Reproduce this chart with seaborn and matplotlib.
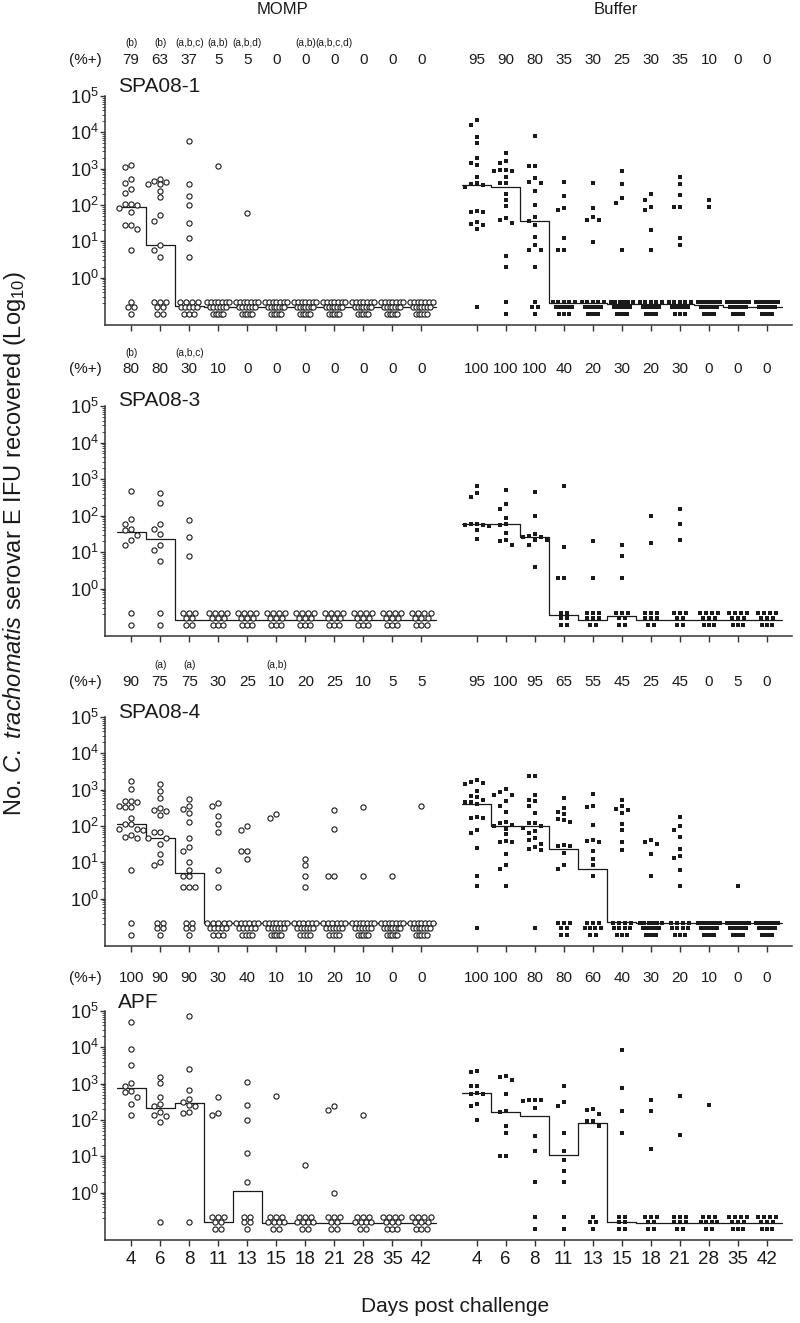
import matplotlib
matplotlib.use("Agg")
import matplotlib.pyplot as plt
import seaborn as sns
import pandas as pd
from matplotlib import transforms
from matplotlib.ticker import FixedLocator, NullFormatter

# ---- data (log10 IFU of positive mice) ----
days = ["4", "6", "8", "11", "13", "15", "18", "21", "28", "35", "42"]

p1_momp_pos = [[3.11, 3.04, 2.73, 2.61, 2.43, 2.33, 2.03, 2.02, 1.99, 1.93, 1.82, 1.44, 1.44, 1.33, 0.76],
               [2.73, 2.66, 2.64, 2.57, 2.57, 2.38, 2.21, 1.72, 1.57, 0.89, 0.76, 0.58],
               [3.76, 2.57, 2.24, 1.99, 1.50, 1.08, 0.58],
               [3.08], [1.77], [], [], [], [], [], []]
p1_buf_pos = [[4.33, 4.20, 3.87, 3.71, 3.29, 3.15, 3.09, 2.78, 2.62, 2.57, 2.55, 2.51, 1.85, 1.80, 1.80, 1.54, 1.47, 1.45, 1.34],
              [3.42, 3.22, 3.15, 2.97, 2.96, 2.95, 2.93, 2.78, 2.62, 2.62, 2.30, 2.14, 1.98, 1.63, 1.59, 1.50, 0.59, 0.29],
              [3.91, 3.07, 3.07, 2.75, 2.63, 2.60, 2.39, 2.01, 1.68, 1.57, 1.45, 1.13, 0.89, 0.77, 0.77, 0.29],
              [2.63, 2.24, 1.91, 1.86, 1.08, 0.77, 0.77],
              [2.60, 1.91, 1.68, 1.59, 1.59, 0.99],
              [2.95, 2.57, 2.19, 2.05, 0.77],
              [2.30, 2.15, 1.94, 1.87, 1.30, 0.77],
              [2.78, 2.57, 2.27, 1.95, 1.95, 1.08, 0.89],
              [2.15, 1.96], [], []]
p2_momp_pos = [[2.66, 1.90, 1.78, 1.63, 1.59, 1.48, 1.33, 1.19],
               [2.61, 2.33, 1.78, 1.63, 1.50, 1.19, 1.06, 0.76],
               [1.89, 1.40, 0.89], [], [], [], [], [], [], [], []]
p2_buf_pos = [[2.82, 2.61, 2.50, 1.77, 1.76, 1.75, 1.74, 1.72, 1.59, 1.36],
              [2.70, 2.31, 2.17, 1.94, 1.76, 1.75, 1.53, 1.33, 1.29, 1.19],
              [2.64, 1.99, 1.50, 1.44, 1.41, 1.40, 1.33, 1.33, 1.19, 0.58],
              [2.82, 1.13, 0.28, 0.28], [1.29, 0.28], [1.19, 0.89, 0.28],
              [2.00, 1.24], [2.18, 1.77, 1.33], [], [], []]
p3_momp_pos = [[3.24, 3.02, 2.70, 2.68, 2.66, 2.55, 2.52, 2.52, 2.23, 2.05, 2.05, 1.92, 1.92, 1.90, 1.76, 1.70, 1.66, 0.80],
               [3.16, 2.97, 2.78, 2.50, 2.44, 2.41, 2.30, 1.83, 1.83, 1.68, 1.68, 1.51, 1.22, 1.02, 0.92],
               [2.75, 2.55, 2.46, 2.35, 2.10, 1.67, 1.41, 1.32, 1.02, 0.80, 0.62, 0.62, 0.33, 0.33, 0.33],
               [2.63, 2.55, 2.28, 2.07, 1.85, 0.80, 0.33],
               [2.01, 1.89, 1.32, 1.32, 1.09],
               [2.33, 2.23], [1.09, 0.93, 0.62, 0.33], [2.44, 1.92, 0.62, 0.62],
               [2.53, 0.62], [0.62], [2.55]]
p3_buf_pos = [[3.27, 3.20, 3.18, 3.15, 2.97, 2.83, 2.80, 2.72, 2.66, 2.65, 2.62, 2.25, 2.23, 2.23, 1.90, 1.81, 1.40, 0.63, 0.34],
              [3.01, 2.94, 2.86, 2.86, 2.68, 2.54, 2.39, 2.10, 2.08, 2.03, 2.01, 1.93, 1.77, 1.59, 1.55, 1.55, 1.23, 0.93, 0.82, 0.34],
              [3.39, 3.37, 2.86, 2.72, 2.70, 2.55, 2.37, 2.08, 2.08, 1.99, 1.95, 1.86, 1.81, 1.66, 1.62, 1.51, 1.41, 1.37, 1.33],
              [2.78, 2.49, 2.39, 2.33, 2.19, 2.17, 2.12, 1.49, 1.45, 1.45, 1.26, 0.93, 0.81],
              [2.89, 2.55, 2.53, 2.03, 1.61, 1.58, 1.55, 1.30, 1.09, 0.93, 0.63],
              [2.73, 2.55, 2.46, 2.45, 2.37, 2.05, 1.89, 1.55, 1.34],
              [1.62, 1.55, 1.50, 1.22, 0.62],
              [2.24, 2.01, 1.89, 1.71, 1.37, 1.17, 1.11, 0.80, 0.34],
              [], [0.34], []]
p4_momp_pos = [[4.69, 3.96, 3.52, 3.03, 2.95, 2.79, 2.77, 2.64, 2.45, 2.15],
               [3.18, 3.01, 2.63, 2.45, 2.40, 2.23, 2.15, 2.10, 1.94],
               [4.86, 3.40, 2.83, 2.59, 2.49, 2.42, 2.38, 2.23, 2.20],
               [2.64, 2.19, 2.13], [3.04, 2.41, 2.01, 1.08, 0.30],
               [2.66], [0.77], [2.39, 2.27, 0.0], [2.15], [], []]
p4_buf_pos = [[3.35, 3.33, 2.95, 2.93, 2.74, 2.73, 2.73, 2.44, 2.39, 2.01],
              [3.20, 3.18, 3.11, 2.71, 2.26, 2.21, 1.83, 1.65, 1.00, 1.00],
              [2.56, 2.55, 2.55, 2.53, 2.33, 1.56, 1.15, 0.30],
              [2.95, 2.49, 2.38, 1.65, 1.15, 0.90, 0.60, 0.30],
              [2.31, 2.27, 2.17, 1.98, 1.98, 1.83],
              [3.92, 2.87, 2.25, 1.65], [2.55, 2.26, 1.21], [2.66, 1.60], [2.41], [], []]

# mice per group (MOMP, Buffer)
n_mice = {"p1": (19, 20), "p2": (10, 10), "p3": (20, 20), "p4": (10, 10)}

# medians (log10) as drawn
p1_momp_med = [1.94, 0.89, -0.78, -0.81, -0.81, -0.81, -0.81, -0.81, -0.81, -0.81, -0.81]
p1_buf_med = [2.55, 2.49, 1.57, -0.69, -0.69, -0.72, -0.72, -0.72, -0.74, -0.80, -0.80]
p2_momp_med = [1.54, 1.37, -0.85, -0.85, -0.85, -0.85, -0.85, -0.85, -0.85, -0.85, -0.85]
p2_buf_med = [1.76, 1.76, 1.40, -0.73, -0.85, -0.75, -0.85, -0.85, -0.85, -0.85, -0.85]
p3_momp_med = [2.05, 1.68, 0.71, -0.68, -0.68, -0.68, -0.68, -0.68, -0.68, -0.68, -0.68]
p3_buf_med = [2.62, 1.99, 2.00, 1.37, 0.81, -0.64, -0.66, -0.66, -0.68, -0.68, -0.68]
p4_momp_med = [2.89, 2.32, 2.46, -0.80, 0.04, -0.82, -0.82, -0.82, -0.82, -0.82, -0.82]
p4_buf_med = [2.74, 2.23, 2.10, 1.03, 1.92, -0.80, -0.82, -0.82, -0.82, -0.82, -0.82]

# % positive rows
p1_momp_pct = ["79", "63", "37", "5", "5", "0", "0", "0", "0", "0", "0"]
p1_buf_pct = ["95", "90", "80", "35", "30", "25", "30", "35", "10", "0", "0"]
p2_momp_pct = ["80", "80", "30", "10", "0", "0", "0", "0", "0", "0", "0"]
p2_buf_pct = ["100", "100", "100", "40", "20", "30", "20", "30", "0", "0", "0"]
p3_momp_pct = ["90", "75", "75", "30", "25", "10", "20", "25", "10", "5", "5"]
p3_buf_pct = ["95", "100", "95", "65", "55", "45", "25", "45", "0", "5", "0"]
p4_momp_pct = ["100", "90", "90", "30", "40", "10", "10", "20", "10", "0", "0"]
p4_buf_pct = ["100", "100", "80", "80", "60", "40", "30", "20", "10", "0", "0"]

p1_letters = ["(b)", "(b)", "(a,b,c)", "(a,b)", "(a,b,d)", "", "(a,b)", "(a,b,c,d)", "", "", ""]
p2_letters = ["(b)", "", "(a,b,c)", "", "", "", "", "", "", "", ""]
p3_letters = ["", "(a)", "(a)", "", "", "(a,b)", "", "", "", "", ""]
p4_letters = [""] * 11

panel_names = ["SPA08-1", "SPA08-3", "SPA08-4", "APF"]

panels = [
    ("p1", p1_momp_pos, p1_buf_pos, p1_momp_med, p1_buf_med, p1_momp_pct, p1_buf_pct, p1_letters),
    ("p2", p2_momp_pos, p2_buf_pos, p2_momp_med, p2_buf_med, p2_momp_pct, p2_buf_pct, p2_letters),
    ("p3", p3_momp_pos, p3_buf_pos, p3_momp_med, p3_buf_med, p3_momp_pct, p3_buf_pct, p3_letters),
    ("p4", p4_momp_pos, p4_buf_pos, p4_momp_med, p4_buf_med, p4_momp_pct, p4_buf_pct, p4_letters),
]

# ---- layout helpers ----
W, H = 800, 1323
SLOT, DEC, GAP = 29.0, 36.3, 6.0
LOD_ROWS = [-0.66, -0.80, -0.99]   # below-detection mice drawn in 3 rows like the original
ROW_WIDTH = [22.0, 16.0, 10.0]     # px width of each row of the "bow tie"
momp_x = list(range(11))
buf_x = [11.9 + i for i in range(11)]


def spread(vals):
    # simple beeswarm: push overlapping points sideways
    placed = []
    for v in sorted(vals, reverse=True):
        for k in (0, -1, 1, -2, 2, -3, 3, -4, 4):
            dx = k * GAP
            if all(abs(dx - px) >= GAP - 0.5 or abs(v - pv) * DEC >= GAP - 0.5 for px, pv in placed):
                break
        placed.append((dx, v))
    return [(px / SLOT, pv) for px, pv in placed]


def negatives(n):
    hi = round(n * 0.37)
    lo = round(n * 0.26)
    mid = n - hi - lo
    pts = []
    for m, lv, wid in zip((hi, mid, lo), LOD_ROWS, ROW_WIDTH):
        if m <= 0:
            continue
        step = min(GAP, wid / max(m - 1, 1))
        for i in range(m):
            pts.append(((i - (m - 1) / 2) * step / SLOT, lv))
    return pts


def group_frame(pos_lists, xs, n):
    rows = []
    for x0, vals in zip(xs, pos_lists):
        for dx, v in spread(vals) + negatives(n - len(vals)):
            rows.append({"x": x0 + dx, "y": 10 ** v})
    return pd.DataFrame(rows)


def median_steps(meds, xs):
    sx, sy = [], []
    for x0, m in zip(xs, meds):
        sx += [x0 - 0.5, x0 + 0.5]
        sy += [10 ** m, 10 ** m]
    return sx, sy


sns.set_style("ticks")
plt.rcParams["font.family"] = ["Liberation Sans", "DejaVu Sans"]
plt.rcParams["mathtext.fontset"] = "custom"
plt.rcParams["mathtext.rm"] = "Liberation Sans"
plt.rcParams["mathtext.it"] = "Liberation Sans:italic"
plt.rcParams["mathtext.bf"] = "Liberation Sans:bold"
INK = "#1a1a1a"

fig = plt.figure(figsize=(W / 100, H / 100), dpi=100)

panel_px = [(96, 325), (406, 636), (717, 946), (1011, 1240)]
pct_y = [60, 369, 682, 978]
letter_y = [43, 353, 665, 962]
title_y = [87, 400, 712, 1003]

for i, (key, mpos, bpos, mmed, bmed, mpct, bpct, letters) in enumerate(panels):
    top, bot = panel_px[i]
    ax = fig.add_axes([105 / W, 1 - bot / H, (792 - 105) / W, (bot - top) / H])
    ax.set_yscale("log")
    n_m, n_b = n_mice[key]

    sx, sy = median_steps(mmed, momp_x)
    ax.plot(sx, sy, color=INK, lw=0.9, zorder=2)
    sx, sy = median_steps(bmed, buf_x)
    ax.plot(sx, sy, color=INK, lw=0.9, zorder=2)

    dm = group_frame(mpos, momp_x, n_m)
    db = group_frame(bpos, buf_x, n_b)
    sns.scatterplot(data=dm, x="x", y="y", ax=ax, marker="o", s=14, color="white",
                    edgecolor=INK, linewidth=0.8, zorder=3, clip_on=False)
    sns.scatterplot(data=db, x="x", y="y", ax=ax, marker="s", s=9, color=INK,
                    linewidth=0, zorder=3, clip_on=False)

    ax.set_xlim(-0.9, 22.76)
    ax.set_ylim(10 ** -1.3, 1e5)
    ax.set_yticks([1, 10, 100, 1e3, 1e4, 1e5])
    ax.set_yticklabels([r"$10^{%d}$" % k for k in range(6)], fontsize=13, color=INK)
    minors = [m * 10.0 ** e for e in range(-1, 5) for m in range(2, 10)]
    ax.yaxis.set_minor_locator(FixedLocator(minors))
    ax.yaxis.set_minor_formatter(NullFormatter())
    ax.set_xticks(momp_x + buf_x)
    if i == 3:
        ax.set_xticklabels(days + days, fontsize=13.5, color=INK)
    else:
        ax.set_xticklabels([])
    ax.tick_params(axis="x", direction="out", length=4.5, width=1.0, color="#333333")
    ax.tick_params(axis="y", which="major", direction="out", length=3.5, width=1.0, color="#333333", pad=1)
    ax.tick_params(axis="y", which="minor", direction="out", length=2, width=0.6, color="#333333")
    ax.set_xlabel("")
    ax.set_ylabel("")
    sns.despine(ax=ax)
    for s in ("left", "bottom"):
        ax.spines[s].set_linewidth(1.1)
        ax.spines[s].set_color("#333333")

    tr = transforms.blended_transform_factory(ax.transData, fig.transFigure)
    for x0, t in zip(momp_x, mpct):
        fig.text(x0, 1 - pct_y[i] / H, t, transform=tr, ha="center", va="center", fontsize=11, color=INK)
    for x0, t in zip(buf_x, bpct):
        fig.text(x0, 1 - pct_y[i] / H, t, transform=tr, ha="center", va="center", fontsize=11, color=INK)
    for x0, t in zip(momp_x, letters):
        if t:
            fig.text(x0, 1 - letter_y[i] / H, t, transform=tr, ha="center", va="center", fontsize=7.3, color=INK)
    fig.text(85 / W, 1 - pct_y[i] / H, "(%+)", ha="center", va="center", fontsize=11, color=INK)
    fig.text(118 / W, 1 - title_y[i] / H, panel_names[i], ha="left", va="center", fontsize=15, color=INK)

fig.text(282 / W, 1 - 9 / H, "MOMP", ha="center", va="center", fontsize=12, color=INK)
fig.text(616 / W, 1 - 9 / H, "Buffer", ha="center", va="center", fontsize=12, color=INK)
fig.text(455 / W, 1 - 1306 / H, "Days post challenge", ha="center", va="center", fontsize=15, color=INK)
fig.text(15 / W, 1 - 543 / H, r"No. $\mathit{C.\ trachomatis}$ serovar E IFU recovered (Log$_{10}$)",
         ha="center", va="center", rotation=90, fontsize=17, color=INK)

fig.savefig("out.png", dpi=100)
